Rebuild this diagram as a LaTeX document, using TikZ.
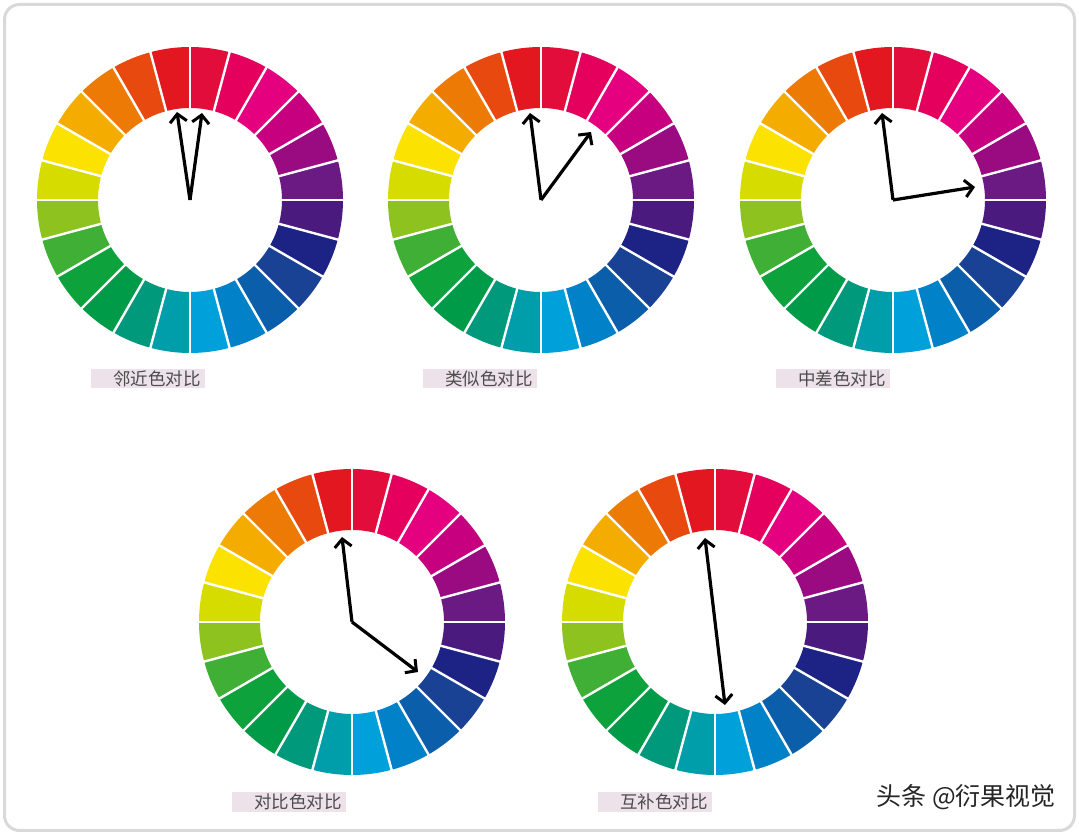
\documentclass[tikz,border=0pt]{standalone}
\usepackage{fontspec}
\usepackage{tikz}
\usetikzlibrary{arrows.meta}
\newfontfamily\cjk{Noto Sans CJK SC}

\definecolor{cwa}{HTML}{E2171F}
\definecolor{cwb}{HTML}{E8490F}
\definecolor{cwc}{HTML}{ED7A05}
\definecolor{cwd}{HTML}{F4AC00}
\definecolor{cwe}{HTML}{FCE200}
\definecolor{cwf}{HTML}{D6DC00}
\definecolor{cwg}{HTML}{8DC21F}
\definecolor{cwh}{HTML}{40AF36}
\definecolor{cwi}{HTML}{0DA23B}
\definecolor{cwj}{HTML}{009B48}
\definecolor{cwk}{HTML}{00997B}
\definecolor{cwl}{HTML}{009DAA}
\definecolor{cwm}{HTML}{00A0DA}
\definecolor{cwn}{HTML}{0081C8}
\definecolor{cwo}{HTML}{0A5EAA}
\definecolor{cwp}{HTML}{1A4294}
\definecolor{cwq}{HTML}{1D2385}
\definecolor{cwr}{HTML}{4B1A7E}
\definecolor{cws}{HTML}{6A1A82}
\definecolor{cwt}{HTML}{9A0B81}
\definecolor{cwu}{HTML}{C6007F}
\definecolor{cwv}{HTML}{E4007F}
\definecolor{cww}{HTML}{E5005E}
\definecolor{cwx}{HTML}{E30D3C}
\definecolor{labelbg}{HTML}{EDE2E9}
\definecolor{labelfg}{HTML}{4C4C4C}
\definecolor{framegray}{HTML}{D9D9D9}

\tikzset{
  >={Straight Barb[length=8pt,width=17pt,line width=3pt]},
  wheelarrow/.style={line width=3.2pt, black},
  labelbox/.style={fill=labelbg, text=labelfg, anchor=east, inner xsep=4pt, inner ysep=0pt,
    minimum height=19.5pt, text width=106pt, align=right, font=\cjk\fontsize{17.5}{17.5}\selectfont},
}

% one ring of 24 segments round a named centre
\newcommand{\colorring}[1]{%
  \begin{scope}[shift={(#1)}]
    \foreach \c [count=\i from 0] in {cwa,cwb,cwc,cwd,cwe,cwf,cwg,cwh,cwi,cwj,cwk,cwl,
                                      cwm,cwn,cwo,cwp,cwq,cwr,cws,cwt,cwu,cwv,cww,cwx}{
      \pgfmathsetmacro{\sa}{90+15*\i}
      \pgfmathsetmacro{\ea}{105+15*\i}
      \fill[\c] (\sa:153) arc[start angle=\sa, end angle=\ea, radius=153]
        -- (\ea:92) arc[start angle=\ea, end angle=\sa, radius=92] -- cycle;
    }
    \foreach \a in {0,15,...,345}
      \draw[white, line width=2.4pt] (\a:90) -- (\a:155);
  \end{scope}}

\begin{document}
\begin{tikzpicture}[x=1pt, y=1pt]
\useasboundingbox (0,0) rectangle (1079,835);
\fill[white] (0,0) rectangle (1079,835);
\draw[framegray, line width=3pt, rounded corners=15pt] (4.5,4.5) rectangle (1074.5,830.5);

% wheel centres
\coordinate (w1) at (190,635);
\coordinate (w2) at (541,635);
\coordinate (w3) at (893,635);
\coordinate (w4) at (352,213);
\coordinate (w5) at (715,213);

\colorring{w1}
\colorring{w2}
\colorring{w3}
\colorring{w4}
\colorring{w5}

% arrow tips
\coordinate (t1a) at (177,723);
\coordinate (t1b) at (202,722);
\coordinate (t2a) at (530,722);
\coordinate (t2b) at (591,703);
\coordinate (t3a) at (882,722);
\coordinate (t3b) at (975,648);
\coordinate (t4a) at (342,298);
\coordinate (t4b) at (418,163);
\coordinate (t5a) at (705,297);
\coordinate (t5b) at (725,130);

\draw[wheelarrow, ->] (w1) -- (t1a);
\draw[wheelarrow, ->] (w1) -- (t1b);
\draw[wheelarrow, ->] (w2) -- (t2a);
\draw[wheelarrow, ->] (w2) -- (t2b);
\draw[wheelarrow, ->] (w3) -- (t3a);
\draw[wheelarrow, ->] (w3) -- (t3b);
\draw[wheelarrow, ->] (w4) -- (t4a);
\draw[wheelarrow, ->] (w4) -- (t4b);
\draw[wheelarrow, <->] (t5a) -- (t5b);

% captions
\node[labelbox] (lab1) at (205,456.5) {邻近色对比};
\node[labelbox] (lab2) at (537,456.5) {类似色对比};
\node[labelbox] (lab3) at (890,456.5) {中差色对比};
\node[labelbox] (lab4) at (346,33) {对比色对比};
\node[labelbox] (lab5) at (712,33) {互补色对比};

\node[font=\cjk\fontsize{25}{25}\selectfont, text=black!85, anchor=east, inner sep=0pt] (mark) at (1056,38) {头条 @衍果视觉};
\end{tikzpicture}
\end{document}
